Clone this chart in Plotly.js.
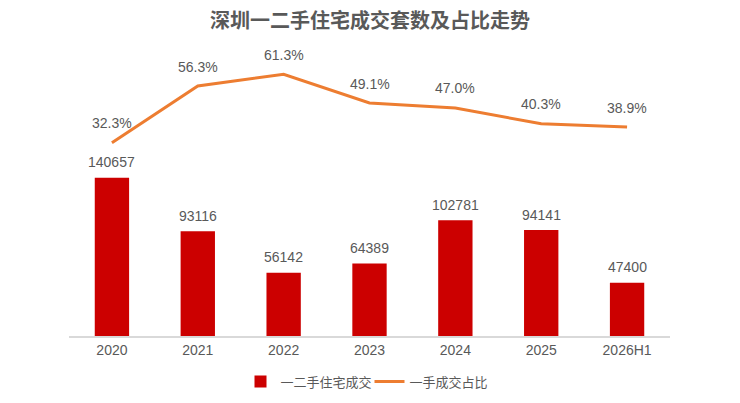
<!DOCTYPE html>
<html>
<head>
<meta charset="utf-8">
<script src="https://cdn.plot.ly/plotly-3.0.1.min.js"></script>
<style>html,body{margin:0;padding:0;background:#fff;}#chart{width:740px;height:403px;}</style>
</head>
<body>
<div id="chart"></div>
<script>
const categories = ["2020", "2021", "2022", "2023", "2024", "2025", "2026H1"];
const deals = [140657, 93116, 56142, 64389, 102781, 94141, 47400];
const newShare = [32.3, 56.3, 61.3, 49.1, 47.0, 40.3, 38.9];
const barName = "一二手住宅成交";
const lineName = "一手成交占比";
const chartTitle = "深圳一二手住宅成交套数及占比走势";

const FONT = "Liberation Sans, Arial, Noto Sans CJK SC, sans-serif";
const TXT = "#595959";

const traces = [
  {
    type: "bar", name: barName, x: categories, y: deals,
    marker: {color: "#CC0000"}, hoverinfo: "skip"
  },
  {
    type: "scatter", mode: "lines", name: lineName, x: categories, y: newShare,
    yaxis: "y2", line: {color: "#ED7D31", width: 3}, hoverinfo: "skip"
  }
];

const annotations = [];
categories.forEach((c, i) => {
  annotations.push({
    x: i, y: deals[i], xref: "x", yref: "y", text: String(deals[i]),
    showarrow: false, yanchor: "middle", yshift: 15.5,
    font: {family: FONT, size: 14, color: TXT}
  });
  annotations.push({
    x: i, y: newShare[i], xref: "x", yref: "y2", text: newShare[i].toFixed(1) + "%",
    showarrow: false, yanchor: "middle", yshift: 19.5,
    font: {family: FONT, size: 14, color: TXT}
  });
});

const layout = {
  width: 740, height: 403,
  margin: {l: 69, r: 70, t: 40, b: 67, autoexpand: false},
  paper_bgcolor: "#ffffff", plot_bgcolor: "#ffffff",
  font: {family: FONT, color: TXT},
  title: {
    text: "<b>" + chartTitle + "</b>",
    x: 0.5, xanchor: "center", y: 0.948, yanchor: "middle",
    font: {family: "Noto Sans CJK SC, sans-serif", size: 20, color: TXT}
  },
  bargap: 0.6,
  showlegend: true,
  legend: {
    orientation: "h", x: 0.5, xanchor: "center",
    yref: "container", y: 0.053, yanchor: "middle",
    font: {family: "Noto Sans CJK SC, sans-serif", size: 13, color: TXT},
    itemwidth: 30, entrywidth: 84, traceorder: "normal"
  },
  xaxis: {
    type: "category", range: [-0.5, 6.5], automargin: false,
    showline: true, linecolor: "#d9d9d9", linewidth: 1.5,
    ticks: "", showgrid: false, zeroline: false, ticklabelstandoff: 1,
    tickfont: {family: FONT, size: 14, color: TXT}
  },
  yaxis: {
    range: [0, 263000], visible: false, showgrid: false, zeroline: false
  },
  yaxis2: {
    range: [-49.6, 75.8], overlaying: "y", side: "right",
    visible: false, showgrid: false, zeroline: false
  },
  annotations: annotations
};

Plotly.newPlot("chart", traces, layout, {displayModeBar: false, staticPlot: true});
</script>
</body>
</html>
